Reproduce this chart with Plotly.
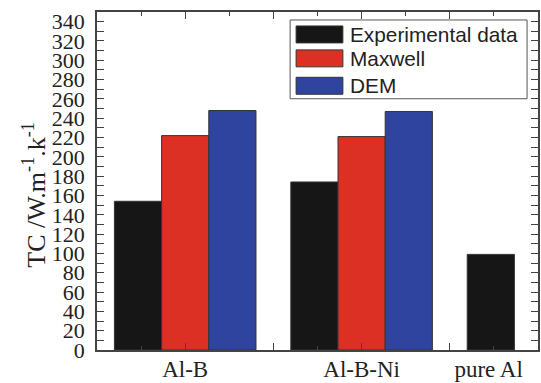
import plotly.graph_objects as go

categories = ["Al-B", "Al-B-Ni", "pure Al"]
group_x = [1, 3, 5]
label_x = [1, 3, 4.44]
experimental = [154, 174, 99]
maxwell = [222, 221, None]
dem = [248, 247, None]
series_names = ["Experimental data", "Maxwell", "DEM"]
colors = ["#161616", "#dd3024", "#2e449e"]
y_title = "TC /W.m<sup>-1</sup>.k<sup>-1</sup>"

W, H = 541, 383
ML, MR, MT, MB = 97, 1, 12, 32
PW, PH = W - ML - MR, H - MT - MB


def px_x(v):
    return (v - ML) / PW


def px_y(v):
    return (H - MB - v) / PH


fig = go.Figure()
for name, vals, col in zip(series_names, [experimental, maxwell, dem], colors):
    fig.add_trace(go.Bar(
        x=group_x, y=vals, name=name, showlegend=False,
        marker=dict(color=col, line=dict(color="#333333", width=1)),
    ))
# dummy trace to host the label axis
fig.add_trace(go.Scatter(x=[None], y=[None], xaxis="x2", showlegend=False, hoverinfo="skip"))

serif = "Liberation Serif, Times New Roman, serif"

# legend drawn as box + swatches + text
shapes = [dict(type="rect", xref="paper", yref="paper",
               x0=px_x(291), x1=px_x(529), y0=px_y(20), y1=px_y(99),
               line=dict(color="#555555", width=1), fillcolor="white", layer="above")]
annotations = []
row_top = [26, 50, 77.5]
for i, (name, col) in enumerate(zip(series_names, colors)):
    t = row_top[i]
    shapes.append(dict(type="rect", xref="paper", yref="paper",
                       x0=px_x(297), x1=px_x(344), y0=px_y(t), y1=px_y(t + 17),
                       line=dict(color="#333333", width=1), fillcolor=col, layer="above"))
    annotations.append(dict(xref="paper", yref="paper", x=px_x(349), y=px_y(t + 8.5),
                            xanchor="left", yanchor="middle", showarrow=False, text=name,
                            font=dict(family="Liberation Sans, Arial, sans-serif", size=20.8, color="#222222")))

# y-axis title (placed as in the reference, slightly below the plot centre)
annotations.append(dict(xref="paper", yref="paper", x=px_x(34), y=px_y(195),
                        xanchor="center", yanchor="middle", showarrow=False, textangle=-90,
                        text=y_title, font=dict(family=serif, size=26, color="#222222")))

fig.update_layout(
    width=W, height=H,
    margin=dict(l=ML, r=MR, t=MT, b=MB),
    paper_bgcolor="white", plot_bgcolor="white",
    barmode="group", bargap=0.1975, bargroupgap=0,
    showlegend=False,
    shapes=shapes, annotations=annotations,
    xaxis=dict(
        range=[0, 5], tickvals=[1, 2, 3, 4], showticklabels=False,
        ticks="inside", ticklen=7, tickwidth=1.2, tickcolor="#444444",
        minor=dict(dtick=0.5, tick0=0, ticks="inside", ticklen=4, tickcolor="#444444", tickwidth=1.2),
        showline=True, linecolor="#444444", linewidth=1.5, mirror="allticks",
        showgrid=False, zeroline=False,
    ),
    xaxis2=dict(
        range=[0, 5], overlaying="x", anchor="y", side="bottom",
        tickvals=label_x, ticktext=categories, ticks="",
        showline=False, showgrid=False, zeroline=False,
        tickfont=dict(family=serif, size=23, color="#222222"),
        ticklabelstandoff=3,
    ),
    yaxis=dict(
        range=[0, 350], dtick=20, tick0=0,
        ticks="inside", ticklen=7, tickwidth=1.2, tickcolor="#444444",
        minor=dict(dtick=10, ticks="inside", ticklen=4, tickcolor="#444444", tickwidth=1.2),
        showline=True, linecolor="#444444", linewidth=1.5, mirror="allticks",
        showgrid=False, zeroline=False,
        tickfont=dict(family=serif, size=22, color="#222222"),
        ticklabelstandoff=6,
    ),
)

fig.write_html("out.html")
